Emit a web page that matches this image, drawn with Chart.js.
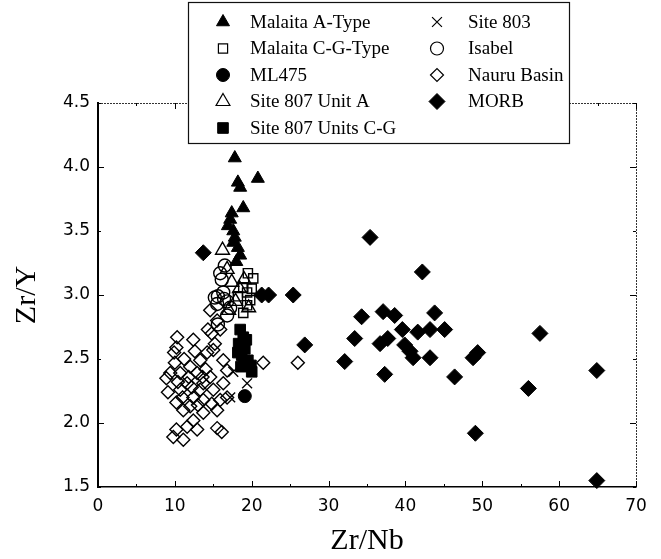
<!DOCTYPE html>
<html>
<head>
<meta charset="utf-8">
<script src="https://cdn.jsdelivr.net/npm/chart.js@4.4.0/dist/chart.umd.min.js"></script>
<style>
  body { margin: 0; background: #fff; }
  canvas { display: block; }
</style>
</head>
<body>
<canvas id="myChart" width="661" height="559"></canvas>
<script>
// valeurs : [Zr/Nb, Zr/Y]
const malaitaA = [[17.8,4.07],[18.2,3.88],[18.5,3.84],[20.8,3.91],[18.9,3.68],[17.4,3.64],[17.2,3.59],
  [16.9,3.54],[17.6,3.50],[17.8,3.45],[17.6,3.41],[18.2,3.37],[18.5,3.31],[18.0,3.26]];
const malaitaCG = [[19.5,3.17],[20.2,3.13],[18.9,3.06],[19.4,3.02],[19.8,2.96],[18.9,2.86],[19.4,2.92],[18.2,2.99],[20.0,3.05]];
const ml475 = [[19.1,2.21]];
const site807A = [[16.2,3.35],[16.8,3.20],[17.4,3.10],[18.4,3.05],[19.0,3.12],[17.9,2.95],[19.6,2.90],[17.0,2.88]];
const site807CG = [[18.5,2.73],[18.9,2.67],[18.3,2.62],[19.1,2.58],[18.7,2.53],[19.5,2.49],[19.9,2.45],[19.0,2.48],
  [19.3,2.65],[18.2,2.55],[20.0,2.40],[18.6,2.44]];
const site803 = [[17.2,2.20],[19.4,2.31],[17.6,2.40]];
const isabel = [[16.5,3.23],[15.9,3.17],[16.1,3.12],[16.3,3.02],[15.2,2.98],[15.6,2.99],[16.4,2.97],[16.8,2.95],
  [15.5,2.93],[16.8,2.84],[15.6,2.77],[17.2,2.90]];
const nauru = [[10.2,2.59],[12.4,2.65],[10.3,2.67],[10.0,2.47],[8.9,2.35],[9.1,2.24],[10.2,2.16],[10.7,2.39],
  [12.0,2.44],[13.3,2.49],[14.2,2.55],[15.2,2.62],[14.8,2.70],[15.9,2.73],[16.3,2.49],[16.8,2.41],[16.3,2.31],
  [16.8,2.20],[15.9,2.18],[15.0,2.26],[13.7,2.31],[12.9,2.39],[11.6,2.31],[10.7,2.26],[12.4,2.20],[13.7,2.18],
  [12.0,2.13],[11.1,2.10],[10.2,1.95],[11.6,1.97],[12.4,2.02],[9.8,1.89],[11.1,1.87],[12.9,1.95],[15.5,1.96],
  [16.1,1.93],[13.7,2.08],[14.6,2.36],[13.3,2.26],[15.0,2.57],[14.6,2.88],[15.5,2.80],[9.4,2.39],[9.9,2.55],
  [15.5,2.10],[14.3,2.73],[11.2,2.50],[12.6,2.56],[11.8,2.36],[10.4,2.32],[14.0,2.42],[13.0,2.14],[11.0,2.20],
  [14.8,2.15],[12.2,2.28],[13.6,2.36],[21.5,2.47],[26.0,2.47]];
const morb = [[13.7,3.33],[21.3,3.00],[22.2,3.00],[25.4,3.00],[35.4,3.45],[42.2,3.18],[34.3,2.83],[37.1,2.87],
  [38.6,2.84],[43.8,2.86],[39.6,2.73],[41.6,2.71],[43.2,2.73],[45.1,2.73],[33.4,2.66],[36.7,2.62],[37.7,2.66],
  [39.9,2.61],[40.6,2.56],[41.0,2.51],[43.2,2.51],[26.9,2.61],[32.1,2.48],[37.3,2.38],[46.4,2.36],[48.8,2.51],
  [49.4,2.55],[57.5,2.70],[64.9,2.41],[56.0,2.27],[49.1,1.92],[64.9,1.55]];

const xTicks = [0, 10, 20, 30, 40, 50, 60, 70];
const yTicks = [1.5, 2.0, 2.5, 3.0, 3.5, 4.0, 4.5];

// description des symboles (ordre = ordre de la légende)
const series = [
  { label: 'Malaita A-Type', data: malaitaA, style: 'triangle', r: 7.5, filled: true, col: 0, row: 0 },
  { label: 'Malaita C-G-Type', data: malaitaCG, style: 'rect', r: 6.5, filled: false, col: 0, row: 1 },
  { label: 'ML475', data: ml475, style: 'circle', r: 6.5, filled: true, col: 0, row: 2 },
  { label: 'Site 807 Unit A', data: site807A, style: 'triangle', r: 8, filled: false, col: 0, row: 3 },
  { label: 'Site 807 Units C-G', data: site807CG, style: 'rect', r: 7.5, filled: true, col: 0, row: 4 },
  { label: 'Site 803', data: site803, style: 'crossRot', r: 7, filled: false, col: 1, row: 0 },
  { label: 'Isabel', data: isabel, style: 'circle', r: 6.5, filled: false, col: 1, row: 1 },
  { label: 'Nauru Basin', data: nauru, style: 'rectRot', r: 6.5, filled: false, col: 1, row: 2 },
  { label: 'MORB', data: morb, style: 'rectRot', r: 8, filled: true, col: 1, row: 3 }
];

function makeDataset(s) {
  return {
    label: s.label,
    data: s.data.map(p => ({ x: p[0], y: p[1] })),
    pointStyle: s.style,
    pointRadius: s.r,
    pointHoverRadius: s.r,
    borderWidth: s.filled ? 1 : 1.4,
    borderColor: '#000',
    backgroundColor: s.filled ? '#000' : 'rgba(0,0,0,0)',
    clip: false
  };
}

// cadre, petites graduations vers l'intérieur et légende encadrée
const framePlugin = {
  id: 'frame',
  afterDraw(chart) {
    const ctx = chart.ctx;
    const a = chart.chartArea;
    const xs = chart.scales.x, ys = chart.scales.y;
    ctx.save();
    ctx.strokeStyle = '#333';
    ctx.lineWidth = 1;
    ctx.setLineDash([2, 1]);
    ctx.beginPath();
    ctx.moveTo(a.left, a.top + 0.5); ctx.lineTo(a.right, a.top + 0.5);
    ctx.moveTo(a.right + 0.5, a.top); ctx.lineTo(a.right + 0.5, a.bottom);
    ctx.stroke();
    ctx.setLineDash([]);
    ctx.strokeStyle = '#000';
    ctx.beginPath();
    for (let v = 0; v <= 70; v += 5) {
      const px = Math.round(xs.getPixelForValue(v)) + 0.5;
      const len = v % 10 === 0 ? 6 : 3;
      ctx.moveTo(px, a.bottom); ctx.lineTo(px, a.bottom - len);
      ctx.moveTo(px, a.top); ctx.lineTo(px, a.top + len);
    }
    yTicks.forEach(v => {
      const py = Math.round(ys.getPixelForValue(v)) + 0.5;
      const len = Number.isInteger(v) ? 6 : 3;
      ctx.moveTo(a.left, py); ctx.lineTo(a.left + len, py);
      ctx.moveTo(a.right, py); ctx.lineTo(a.right - len, py);
    });
    ctx.stroke();

    // légende
    const box = { left: 188, top: 2, right: 569, bottom: 143 };
    ctx.fillStyle = '#fff';
    ctx.fillRect(box.left, box.top, box.right - box.left, box.bottom - box.top);
    ctx.strokeStyle = '#111';
    ctx.lineWidth = 1.2;
    ctx.strokeRect(box.left + 0.5, box.top + 0.5, box.right - box.left, box.bottom - box.top);
    const markX = [223, 437], textX = [250, 468];
    const rowY = [22, 48.5, 75, 101.5, 128];
    ctx.font = '19px "Liberation Serif", "Times New Roman", serif';
    ctx.textBaseline = 'middle';
    ctx.textAlign = 'left';
    series.forEach(s => {
      const y = rowY[s.row];
      ctx.fillStyle = s.filled ? '#000' : 'rgba(0,0,0,0)';
      ctx.strokeStyle = '#000';
      ctx.lineWidth = s.filled ? 1 : 1.2;
      Chart.helpers.drawPoint(ctx, { pointStyle: s.style, radius: s.r, rotation: 0, borderWidth: ctx.lineWidth }, markX[s.col], y);
      ctx.fillStyle = '#000';
      ctx.fillText(s.label, textX[s.col], y + 1);
    });
    ctx.restore();
  }
};

const tickFont = { family: '"DejaVu Sans", sans-serif', size: 17 };
const titleFont = { family: '"Liberation Serif", "Times New Roman", serif', size: 30 };

new Chart(document.getElementById('myChart').getContext('2d'), {
  type: 'scatter',
  data: { datasets: series.map(makeDataset) },
  options: {
    responsive: false,
    animation: false,
    layout: { padding: { left: 0, top: 103, right: 25, bottom: 0 } },
    plugins: { legend: { display: false }, tooltip: { enabled: false } },
    scales: {
      x: {
        type: 'linear', min: 0, max: 70,
        afterFit: s => { s.height = 72; },
        afterBuildTicks: s => { s.ticks = xTicks.map(v => ({ value: v })); },
        ticks: { font: tickFont, color: '#000', padding: 9, maxRotation: 0 },
        grid: { drawOnChartArea: false, drawTicks: false },
        border: { color: '#000', width: 1.5 },
        title: { display: true, text: 'Zr/Nb', font: titleFont, color: '#000', padding: { top: 0, bottom: 0 } }
      },
      y: {
        type: 'linear', min: 1.5, max: 4.5,
        afterFit: s => { s.width = 98; },
        afterBuildTicks: s => { s.ticks = yTicks.map(v => ({ value: v })); },
        ticks: { font: tickFont, color: '#000', padding: 8, callback: v => Number(v).toFixed(1) },
        grid: { drawOnChartArea: false, drawTicks: false },
        border: { color: '#000', width: 2 },
        title: { display: true, text: 'Zr/Y', font: titleFont, color: '#000', padding: { top: 9, bottom: 0 } }
      }
    }
  },
  plugins: [framePlugin]
});
</script>
</body>
</html>
